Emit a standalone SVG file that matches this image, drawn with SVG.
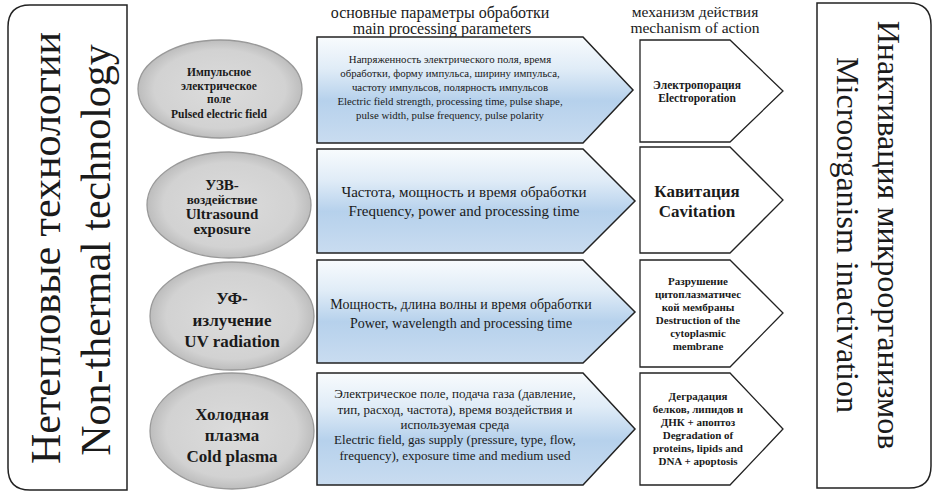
<svg xmlns="http://www.w3.org/2000/svg" width="933" height="497" viewBox="0 0 933 497" font-family="Liberation Serif, serif">
<style>
.t{font-family:'Liberation Serif',serif;fill:#1a1a1a;text-anchor:middle}
.b{font-weight:bold}
.frame{fill:#fff;stroke:#222;stroke-width:1.5}
.blue{fill:url(#gBlue);stroke:#222;stroke-width:1.5}
.white{fill:#fff;stroke:#222;stroke-width:1.3}
.ell{fill:url(#gGray);stroke:#999;stroke-width:1.3}
</style>
<defs>
<linearGradient id="gBlue" x1="0" y1="0" x2="0" y2="1">
<stop offset="0" stop-color="#f8fbfd"/>
<stop offset="0.3" stop-color="#e0ecf7"/>
<stop offset="0.6" stop-color="#b6d1ec"/>
<stop offset="1" stop-color="#c9dcf0"/>
</linearGradient>
<radialGradient id="gGray" cx="0.5" cy="0.5" r="0.5">
<stop offset="0" stop-color="#dcdcdc"/>
<stop offset="0.8" stop-color="#d2d2d2"/>
<stop offset="1" stop-color="#bdbdbd"/>
</radialGradient>
</defs>
<rect width="933" height="497" fill="#fff"/>

<g id="left-frame">
<path class="frame" d="M127,5 H30 Q8,5 8,27 V468 Q8,490 30,490 H127 Z"/>
<text class="t" font-size="42" transform="translate(60,248) rotate(-90)">Нетепловые технологии</text>
<text class="t" font-size="42" transform="translate(110,250) rotate(-90)">Non-thermal technology</text>
</g>

<g id="right-frame">
<path class="frame" d="M817,3 H909 Q931,3 931,25 V466 Q931,488 909,488 H817 Z"/>
<text class="t" font-size="32" transform="translate(878,235) rotate(90)">Инактивация микроорганизмов</text>
<text class="t" font-size="32" transform="translate(837,235) rotate(90)">Microorganism inactivation</text>
</g>

<g id="headers">
<text class="t" font-size="16" x="440" y="18">основные параметры обработки</text>
<text class="t" font-size="16" x="442" y="34">main processing parameters</text>
<text class="t" font-size="15.5" x="695" y="17">механизм действия</text>
<text class="t" font-size="15.5" x="695" y="33">mechanism of action</text>
</g>

<g id="tech-pef">
<ellipse class="ell" cx="220" cy="89" rx="82" ry="49"/>
<text class="t b" font-size="11.5" x="219" y="76">Импульсное</text>
<text class="t b" font-size="11.5" x="219" y="90">электрическое</text>
<text class="t b" font-size="11.5" x="219" y="103">поле</text>
<text class="t b" font-size="11.5" x="219" y="118">Pulsed electric field</text>
</g>
<g id="tech-us">
<ellipse class="ell" cx="229" cy="205" rx="82" ry="53"/>
<text class="t b" font-size="15" x="222" y="190">УЗВ-</text>
<text class="t b" font-size="13" x="222" y="204">воздействие</text>
<text class="t b" font-size="15" x="222" y="219">Ultrasound</text>
<text class="t b" font-size="15" x="222" y="234">exposure</text>
</g>
<g id="tech-uv">
<ellipse class="ell" cx="232" cy="316" rx="82" ry="54"/>
<text class="t b" font-size="17" x="232" y="304">УФ-</text>
<text class="t b" font-size="17" x="232" y="326">излучение</text>
<text class="t b" font-size="17" x="232" y="347">UV radiation</text>
</g>
<g id="tech-cp">
<ellipse class="ell" cx="232" cy="431" rx="82" ry="58"/>
<text class="t b" font-size="17" x="232" y="420">Холодная</text>
<text class="t b" font-size="17" x="232" y="441">плазма</text>
<text class="t b" font-size="17" x="232" y="462">Cold plasma</text>
</g>

<g id="params-pef">
<polygon class="blue" points="317,37 583,37 633,90 583,143 317,143"/>
<text class="t" font-size="10.8" x="450" y="63">Напряженность электрического поля, время</text>
<text class="t" font-size="10.8" x="450" y="77">обработки, форму импульса, ширину импульса,</text>
<text class="t" font-size="10.8" x="450" y="91">частоту импульсов, полярность импульсов</text>
<text class="t" font-size="10.8" x="450" y="105">Electric field strength, processing time, pulse shape,</text>
<text class="t" font-size="10.8" x="450" y="119">pulse width, pulse frequency, pulse polarity</text>
</g>
<g id="params-us">
<polygon class="blue" points="317,149 583,149 635,201 583,253 317,253"/>
<text class="t" font-size="15" x="464" y="197">Частота, мощность и время обработки</text>
<text class="t" font-size="15" x="464" y="216">Frequency, power and processing time</text>
</g>
<g id="params-uv">
<polygon class="blue" points="317,260 583,260 635,312 583,363 317,363"/>
<text class="t" font-size="14" x="461" y="309">Мощность, длина волны и время обработки</text>
<text class="t" font-size="14" x="461" y="328">Power, wavelength and processing time</text>
</g>
<g id="params-cp">
<polygon class="blue" points="317,373 583,373 635,429 583,485 317,485"/>
<text class="t" font-size="13" x="455" y="398">Электрическое поле, подача газа (давление,</text>
<text class="t" font-size="13" x="455" y="414">тип, расход, частота), время воздействия и</text>
<text class="t" font-size="13" x="455" y="429">используемая среда</text>
<text class="t" font-size="13" x="455" y="444">Electric field, gas supply (pressure, type, flow,</text>
<text class="t" font-size="13" x="455" y="460">frequency), exposure time and medium used</text>
</g>

<g id="mech-pef">
<polygon class="white" points="640,40 730,40 783,91 730,142 640,142"/>
<text class="t b" font-size="11.5" x="697" y="89">Электропорация</text>
<text class="t b" font-size="11.5" x="697" y="102">Electroporation</text>
</g>
<g id="mech-us">
<polygon class="white" points="640,147 730,147 783,200 730,253 640,253"/>
<text class="t b" font-size="17" x="697" y="197">Кавитация</text>
<text class="t b" font-size="17" x="697" y="217">Cavitation</text>
</g>
<g id="mech-uv">
<polygon class="white" points="640,260 730,260 783,313 730,367 640,367"/>
<text class="t b" font-size="11" x="698" y="285">Разрушение</text>
<text class="t b" font-size="11" x="698" y="298">цитоплазматичес</text>
<text class="t b" font-size="11" x="698" y="311">кой мембраны</text>
<text class="t b" font-size="11" x="698" y="324">Destruction of the</text>
<text class="t b" font-size="11" x="698" y="337">cytoplasmic</text>
<text class="t b" font-size="11" x="698" y="350">membrane</text>
</g>
<g id="mech-cp">
<polygon class="white" points="640,373 730,373 783,429 730,485 640,485"/>
<text class="t b" font-size="11" x="698" y="400">Деградация</text>
<text class="t b" font-size="11" x="698" y="413">белков, липидов и</text>
<text class="t b" font-size="11" x="698" y="426">ДНК + апоптоз</text>
<text class="t b" font-size="11" x="698" y="439">Degradation of</text>
<text class="t b" font-size="11" x="698" y="452">proteins, lipids and</text>
<text class="t b" font-size="11" x="698" y="465">DNA + apoptosis</text>
</g>

<g id="connectors"></g>
</svg>
